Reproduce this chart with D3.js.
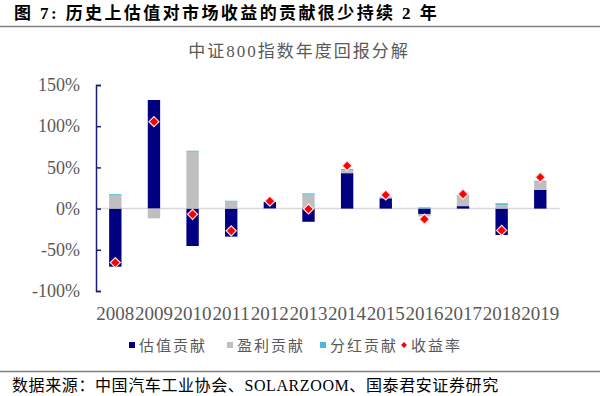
<!DOCTYPE html>
<html>
<head>
<meta charset="utf-8">
<script src="https://cdn.jsdelivr.net/npm/d3@7"></script>
<style>
  body { margin: 0; background: #fff; }
  svg { display: block; }
</style>
</head>
<body>
<div id="chart"></div>
<script>
// 中证800 年度回报分解 (%)
const years = ["2008","2009","2010","2011","2012","2013","2014","2015","2016","2017","2018","2019"]
const valuation = [-70.5, 131.8, -45.4, -34, 8, -16, 43, 12.5, -6.5, 3, -32, 22.6]   // 估值贡献
const earnings  = [16, -11.8, 69, 8.5, -0.5, 17, 3.5, 1, -3, 12.5, 4.5, 10]          // 盈利贡献
const dividend  = [1.5, 0, 1.2, 1, 0, 1.5, 1.5, 0.8, 1.5, 1, 2, 1.2]                  // 分红贡献
const returns   = [-65.5, 105.5, -7, -27, 9, -0.5, 52, 16.5, -12.8, 17.5, -26.5, 38] // 收益率
const yTicks = [-100, -50, 0, 50, 100, 150]

const keys = ["valuation", "earnings", "dividend"]
const names = {valuation: "估值贡献", earnings: "盈利贡献", dividend: "分红贡献"}
const colors = {valuation: "#000080", earnings: "#bfbfbf", dividend: "#4cb8dc"}

const table = years.map((y, i) => ({year: y, valuation: valuation[i], earnings: earnings[i], dividend: dividend[i], ret: returns[i]}))

var width = 600,
    height = 396

var serif = "'Liberation Serif', 'Noto Sans CJK SC', serif"

var svg = d3.select("#chart").append("svg")
    .attr("width", width)
    .attr("height", height)

// header
svg.append("text")
    .attr("x", 14).attr("y", 19)
    .style("font-family", serif)
    .style("font-size", "17px")
    .style("font-weight", "bold")
    .style("letter-spacing", "2.4px")
    .attr("fill", "#000")
    .text("图 7:  历史上估值对市场收益的贡献很少持续 2 年")

svg.append("line")
    .attr("x1", 0).attr("x2", width)
    .attr("y1", 26.5).attr("y2", 26.5)
    .attr("stroke", "#7f7f7f").attr("stroke-width", 1.5)

svg.append("text")
    .attr("x", 299).attr("y", 57)
    .attr("text-anchor", "middle")
    .style("font-family", serif)
    .style("font-size", "17px")
    .style("letter-spacing", "2px")
    .attr("fill", "#595959")
    .text("中证800指数年度回报分解")

// scales
const x = d3.scaleBand()
    .domain(years)
    .range([96, 559.6])
    .paddingInner(0.68)
    .paddingOuter(0.34)

const y = d3.scaleLinear()
    .domain([-100, 150])
    .range([291, 85])

// zero line
svg.append("line")
    .attr("x1", 96).attr("x2", 559.6)
    .attr("y1", y(0)).attr("y2", y(0))
    .attr("stroke", "#d9d9d9").attr("stroke-width", 1.5)

// stacked bars
const series = d3.stack().keys(keys).offset(d3.stackOffsetDiverging)(table)

svg.append("g")
    .selectAll("g")
    .data(series)
    .enter()
    .append("g")
    .attr("fill", d => colors[d.key])
    .selectAll("rect")
    .data(d => d)
    .enter()
    .append("rect")
    .attr("x", d => x(d.data.year))
    .attr("width", x.bandwidth())
    .attr("y", d => y(Math.max(d[0], d[1])))
    .attr("height", d => Math.abs(y(d[0]) - y(d[1])))

// y axis
const yAxis = d3.axisRight(y)
    .tickValues(yTicks)
    .tickSize(5)
    .tickFormat(d => d + "%")

const ya = svg.append("g")
    .attr("transform", "translate(96,0)")
    .call(yAxis)
ya.select(".domain").attr("stroke", "#1c1c78").attr("stroke-width", 1.5)
ya.selectAll(".tick line").attr("stroke", "#1c1c78").attr("stroke-width", 1.5)
ya.selectAll(".tick text")
    .attr("x", -16)
    .attr("text-anchor", "end")
    .style("font-family", serif)
    .style("font-size", "18px")
    .attr("fill", "#595959")

// x labels
const xAxis = d3.axisBottom(x).tickSize(0)
const xa = svg.append("g")
    .attr("transform", "translate(0,303)")
    .call(xAxis)
xa.select(".domain").remove()
xa.selectAll(".tick text")
    .style("font-family", serif)
    .style("font-size", "19px")
    .attr("fill", "#595959")

// return markers
svg.append("g")
    .selectAll("path")
    .data(table)
    .enter()
    .append("path")
    .attr("d", d3.symbol().type(d3.symbolDiamond2).size(64))
    .attr("transform", d => "translate(" + (x(d.year) + x.bandwidth() / 2) + "," + y(d.ret) + ")")
    .attr("fill", "#ff0000")
    .attr("stroke", "#ffe0e0")
    .attr("stroke-width", 1.2)

// legend
const legendItems = [
    {label: names.valuation, color: colors.valuation, x: 129, type: "sq"},
    {label: names.earnings, color: colors.earnings, x: 227, type: "sq"},
    {label: names.dividend, color: colors.dividend, x: 320, type: "sq"},
    {label: "收益率", color: "#ff0000", x: 401, type: "dia"}
]

const lg = svg.append("g")
lg.selectAll("rect")
    .data(legendItems.filter(d => d.type == "sq"))
    .enter()
    .append("rect")
    .attr("x", d => d.x).attr("y", 342)
    .attr("width", 6).attr("height", 6)
    .attr("fill", d => d.color)
lg.selectAll("path")
    .data(legendItems.filter(d => d.type == "dia"))
    .enter()
    .append("path")
    .attr("d", d3.symbol().type(d3.symbolDiamond2).size(22))
    .attr("transform", d => "translate(" + (d.x + 3) + ",345)")
    .attr("fill", d => d.color)
lg.selectAll("text")
    .data(legendItems)
    .enter()
    .append("text")
    .attr("x", d => d.x + 10)
    .attr("y", 350.5)
    .style("font-family", serif)
    .style("font-size", "15px")
    .style("letter-spacing", "2px")
    .attr("fill", "#595959")
    .text(d => d.label)

// footer
svg.append("line")
    .attr("x1", 0).attr("x2", width)
    .attr("y1", 371.5).attr("y2", 371.5)
    .attr("stroke", "#7f7f7f").attr("stroke-width", 1.5)

svg.append("text")
    .attr("x", 12).attr("y", 391)
    .style("font-family", serif)
    .style("font-size", "16px")
    .style("letter-spacing", "0.6px")
    .attr("fill", "#000")
    .text("数据来源：中国汽车工业协会、SOLARZOOM、国泰君安证券研究")
</script>
</body>
</html>
